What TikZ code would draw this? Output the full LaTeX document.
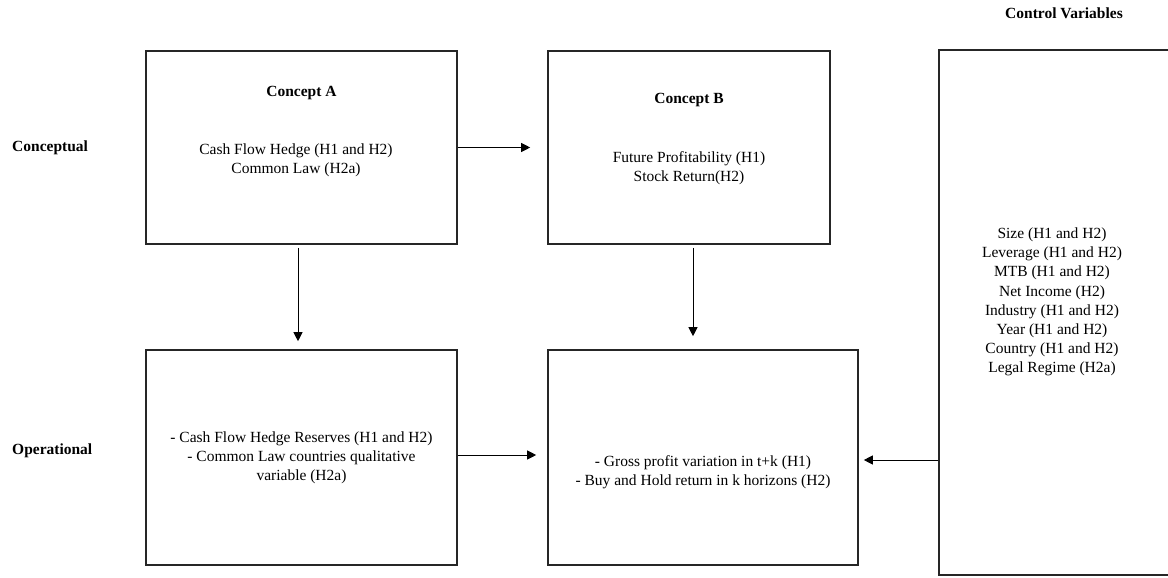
\documentclass[tikz,border=0pt]{standalone}
\usepackage{fontspec}
\setmainfont{Liberation Serif}
\usetikzlibrary{arrows.meta}
\begin{document}
\begin{tikzpicture}[x=1pt,y=-1pt,
  box/.style={draw=black!85, line width=1.6pt, inner sep=0pt, minimum width=#1},
  txt/.style={align=center, font=\fontsize{15.5}{19.2}\selectfont, inner sep=0pt},
  head/.style={align=center, font=\fontsize{15.5}{19.2}\selectfont\bfseries, inner sep=0pt},
  arr/.style={draw=black, line width=0.9pt, -{Triangle[length=9pt,width=9pt]}}]
\useasboundingbox (0,0) rectangle (1168,578);

% column boxes
\node[box=311pt, minimum height=193pt] (A) at (301.5,147.5) {};
\node[box=282pt, minimum height=193pt] (B) at (689,147.5) {};
\node[box=311pt, minimum height=215pt] (C) at (301.5,457.5) {};
\node[box=310pt, minimum height=215pt] (D) at (703,457.5) {};
\node[box=230pt, minimum height=525pt] (V) at (1054,312.5) {};

% row and column headings
\node[head, anchor=west] (conc) at (12,148) {Conceptual};
\node[head, anchor=west] (oper) at (12,451) {Operational};
\node[head] (ctrl) at (1064,13) {Control Variables};

% box contents
\node[head] (ta) at (301.5,93) {Concept A};
\node[txt] (tA) at (296,160) {Cash Flow Hedge (H1 and H2)\\Common Law (H2a)};
\node[head] (tb) at (689,100) {Concept B};
\node[txt] (tB) at (689,168) {Future Profitability (H1)\\Stock Return(H2)};
\node[txt] (tC) at (301.5,457.5) {- Cash Flow Hedge Reserves (H1 and H2)\\- Common Law countries qualitative\\variable (H2a)};
\node[txt] (tD) at (703,472) {- Gross profit variation in t+k (H1)\\- Buy and Hold return in k horizons (H2)};
\node[txt] (tV) at (1052,302) {Size (H1 and H2)\\Leverage (H1 and H2)\\MTB (H1 and H2)\\Net Income (H2)\\Industry (H1 and H2)\\Year (H1 and H2)\\Country (H1 and H2)\\Legal Regime (H2a)};

% connectors (shifts are in canvas units: positive yshift moves up)
\draw[arr] (A.east) -- ([xshift=-17pt]B.west);
\draw[arr] ([xshift=-3.5pt,yshift=-3pt]A.south) -- ([xshift=-3.5pt,yshift=8pt]C.north);
\draw[arr] ([xshift=4pt,yshift=-3pt]B.south) -- ([xshift=-10pt,yshift=13pt]D.north);
\draw[arr] ([yshift=2.5pt]C.east) -- ([xshift=-11pt,yshift=2.5pt]D.west);
\draw[arr] ([yshift=-2.5pt]V.west |- D.east) -- ([xshift=5pt,yshift=-2.5pt]D.east);
\end{tikzpicture}
\end{document}
